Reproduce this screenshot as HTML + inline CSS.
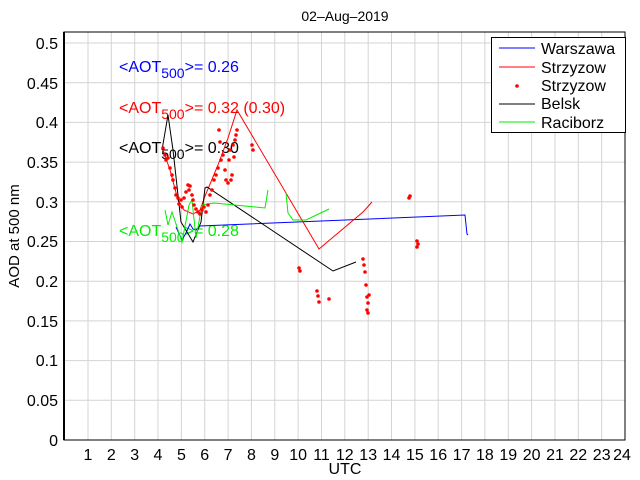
<!DOCTYPE html>
<html><head><meta charset="utf-8"><style>
body{margin:0;background:#fff}
svg{display:block;font-family:"Liberation Sans",sans-serif}
</style></head><body>
<svg width="640" height="480" viewBox="0 0 640 480">
<rect width="640" height="480" fill="#fff"/>
<g stroke="#d4d4d4" stroke-width="1">
<line x1="88" y1="32" x2="88" y2="440"/><line x1="111.3" y1="32" x2="111.3" y2="440"/><line x1="134.7" y1="32" x2="134.7" y2="440"/><line x1="158" y1="32" x2="158" y2="440"/><line x1="181.4" y1="32" x2="181.4" y2="440"/><line x1="204.7" y1="32" x2="204.7" y2="440"/><line x1="228.1" y1="32" x2="228.1" y2="440"/><line x1="251.4" y1="32" x2="251.4" y2="440"/><line x1="274.8" y1="32" x2="274.8" y2="440"/><line x1="298.1" y1="32" x2="298.1" y2="440"/><line x1="321.5" y1="32" x2="321.5" y2="440"/><line x1="344.8" y1="32" x2="344.8" y2="440"/><line x1="368.2" y1="32" x2="368.2" y2="440"/><line x1="391.5" y1="32" x2="391.5" y2="440"/><line x1="414.9" y1="32" x2="414.9" y2="440"/><line x1="438.2" y1="32" x2="438.2" y2="440"/><line x1="461.6" y1="32" x2="461.6" y2="440"/><line x1="484.9" y1="32" x2="484.9" y2="440"/><line x1="508.3" y1="32" x2="508.3" y2="440"/><line x1="531.6" y1="32" x2="531.6" y2="440"/><line x1="555" y1="32" x2="555" y2="440"/><line x1="578.3" y1="32" x2="578.3" y2="440"/><line x1="601.7" y1="32" x2="601.7" y2="440"/>
<line x1="64" y1="400.3" x2="625" y2="400.3"/><line x1="64" y1="360.6" x2="625" y2="360.6"/><line x1="64" y1="320.9" x2="625" y2="320.9"/><line x1="64" y1="281.2" x2="625" y2="281.2"/><line x1="64" y1="241.5" x2="625" y2="241.5"/><line x1="64" y1="201.8" x2="625" y2="201.8"/><line x1="64" y1="162.1" x2="625" y2="162.1"/><line x1="64" y1="122.4" x2="625" y2="122.4"/><line x1="64" y1="82.7" x2="625" y2="82.7"/><line x1="64" y1="43" x2="625" y2="43"/>
</g>
<rect x="64" y="32" width="561" height="408" fill="none" stroke="#000" stroke-width="1"/>
<line x1="64" y1="32" x2="64" y2="440" stroke="#000" stroke-width="2"/>
<g font-size="16" fill="#000" text-anchor="end">
<text x="58" y="446">0</text><text x="58" y="406">0.05</text><text x="58" y="366">0.1</text><text x="58" y="327">0.15</text><text x="58" y="287">0.2</text><text x="58" y="247">0.25</text><text x="58" y="208">0.3</text><text x="58" y="168">0.35</text><text x="58" y="128">0.4</text><text x="58" y="89">0.45</text><text x="58" y="49">0.5</text>
</g>
<g font-size="16" fill="#000" text-anchor="middle">
<text x="88" y="460">1</text><text x="111.3" y="460">2</text><text x="134.7" y="460">3</text><text x="158" y="460">4</text><text x="181.4" y="460">5</text><text x="204.7" y="460">6</text><text x="228.1" y="460">7</text><text x="251.4" y="460">8</text><text x="274.8" y="460">9</text><text x="298.1" y="460">10</text><text x="321.5" y="460">11</text><text x="344.8" y="460">12</text><text x="368.2" y="460">13</text><text x="391.5" y="460">14</text><text x="414.9" y="460">15</text><text x="438.2" y="460">16</text><text x="461.6" y="460">17</text><text x="484.9" y="460">18</text><text x="508.3" y="460">19</text><text x="531.6" y="460">20</text><text x="555" y="460">21</text><text x="578.3" y="460">22</text><text x="601.7" y="460">23</text><text x="622" y="460">24</text>
<text x="345" y="474">UTC</text>
<text x="345" y="21" font-size="14">02–Aug–2019</text>
<text transform="translate(19 236) rotate(-90)" font-size="15">AOD at 500 nm</text>
</g>
<g font-size="16">
<text x="119" y="72" fill="#0000ff">&lt;AOT<tspan font-size="14" dy="6">500</tspan><tspan dy="-6">&gt;= 0.26</tspan></text>
<text x="119" y="113" fill="#ff0000">&lt;AOT<tspan font-size="14" dy="6">500</tspan><tspan dy="-6">&gt;= 0.32 (0.30)</tspan></text>
<text x="119" y="153" fill="#000">&lt;AOT<tspan font-size="14" dy="6">500</tspan><tspan dy="-6">&gt;= 0.30</tspan></text>
<text x="119" y="236" fill="#00ee00">&lt;AOT<tspan font-size="14" dy="6">500</tspan><tspan dy="-6">&gt;= 0.28</tspan></text>
</g>
<g fill="none" stroke-width="1">
<polyline stroke="#0000ff" points="176,227 182,240 186,233 190,224 193,229 196,230 200,226 465,215 467,234 468,235"/>
<polyline stroke="#ff0000" points="163,150 170,170 178,200 184,210 193,214 200,210 205,196 218,165 228,138 237,110 319,249 363,212 372,202"/>
<polyline stroke="#000" points="162,150 168,115 173,150 181,222 193,242 201,222 205,188 207,187 333,271 356,262"/>
<polyline stroke="#00ee00" points="165,210 168,225 172,212 182,242 189,205 192,200 196,238 202,205 214,203 265,208 268,190"/>
<polyline stroke="#00ee00" points="286,193 288,213 293,220 306,220 329,209"/>
</g>
<g fill="#ff0000">
<circle cx="163" cy="148" r="1.8"/><circle cx="165" cy="155" r="1.8"/><circle cx="166" cy="160" r="1.8"/><circle cx="168" cy="158" r="1.8"/><circle cx="170" cy="168" r="1.8"/><circle cx="172" cy="175" r="1.8"/><circle cx="173" cy="180" r="1.8"/><circle cx="175" cy="188" r="1.8"/><circle cx="176" cy="195" r="1.8"/><circle cx="178" cy="198" r="1.8"/><circle cx="179" cy="204" r="1.8"/><circle cx="181" cy="200" r="1.8"/><circle cx="182" cy="207" r="1.8"/><circle cx="184" cy="198" r="1.8"/><circle cx="186" cy="192" r="1.8"/><circle cx="188" cy="185" r="1.8"/><circle cx="189" cy="190" r="1.8"/><circle cx="190" cy="186" r="1.8"/><circle cx="192" cy="195" r="1.8"/><circle cx="193" cy="200" r="1.8"/><circle cx="194" cy="205" r="1.8"/><circle cx="196" cy="209" r="1.8"/><circle cx="198" cy="212" r="1.8"/><circle cx="200" cy="214" r="1.8"/><circle cx="202" cy="210" r="1.8"/><circle cx="204" cy="207" r="1.8"/><circle cx="206" cy="212" r="1.8"/><circle cx="208" cy="205" r="1.8"/><circle cx="210" cy="195" r="1.8"/><circle cx="212" cy="190" r="1.8"/><circle cx="214" cy="180" r="1.8"/><circle cx="216" cy="175" r="1.8"/><circle cx="218" cy="168" r="1.8"/><circle cx="219" cy="130" r="1.8"/><circle cx="220" cy="142" r="1.8"/><circle cx="221" cy="160" r="1.8"/><circle cx="223" cy="155" r="1.8"/><circle cx="225" cy="170" r="1.8"/><circle cx="226" cy="180" r="1.8"/><circle cx="228" cy="183" r="1.8"/><circle cx="229" cy="160" r="1.8"/><circle cx="230" cy="150" r="1.8"/><circle cx="231" cy="180" r="1.8"/><circle cx="232" cy="175" r="1.8"/><circle cx="233" cy="145" r="1.8"/><circle cx="234" cy="157" r="1.8"/><circle cx="235" cy="140" r="1.8"/><circle cx="236" cy="135" r="1.8"/><circle cx="237" cy="130" r="1.8"/><circle cx="252" cy="145" r="1.8"/><circle cx="253" cy="150" r="1.8"/>
<circle cx="299" cy="268" r="1.8"/><circle cx="300" cy="271" r="1.8"/><circle cx="317" cy="291" r="1.8"/><circle cx="318" cy="296" r="1.8"/><circle cx="319" cy="302" r="1.8"/><circle cx="329" cy="299" r="1.8"/><circle cx="363" cy="259" r="1.8"/><circle cx="364" cy="265" r="1.8"/><circle cx="365" cy="272" r="1.8"/><circle cx="366" cy="285" r="1.8"/><circle cx="367" cy="297" r="1.8"/><circle cx="369" cy="295" r="1.8"/><circle cx="368" cy="303" r="1.8"/><circle cx="367" cy="310" r="1.8"/><circle cx="368" cy="313" r="1.8"/><circle cx="410" cy="196" r="1.8"/><circle cx="409" cy="198" r="1.8"/><circle cx="417" cy="241" r="1.8"/><circle cx="418" cy="244" r="1.8"/><circle cx="417" cy="247" r="1.8"/>
</g>
<rect x="491.5" y="37.5" width="134" height="95" fill="#fff" stroke="#000"/>
<g stroke-width="1">
<line x1="499" y1="48" x2="535" y2="48" stroke="#0000ff"/>
<line x1="499" y1="67" x2="535" y2="67" stroke="#ff0000"/>
<circle cx="517" cy="86" r="1.8" fill="#ff0000"/>
<line x1="499" y1="104" x2="535" y2="104" stroke="#000"/>
<line x1="499" y1="122" x2="535" y2="122" stroke="#00ee00"/>
</g>
<g font-size="16" fill="#000">
<text x="541" y="54">Warszawa</text><text x="541" y="73">Strzyzow</text><text x="541" y="91">Strzyzow</text><text x="541" y="109">Belsk</text><text x="541" y="128">Raciborz</text>
</g>
</svg>
</body></html>
